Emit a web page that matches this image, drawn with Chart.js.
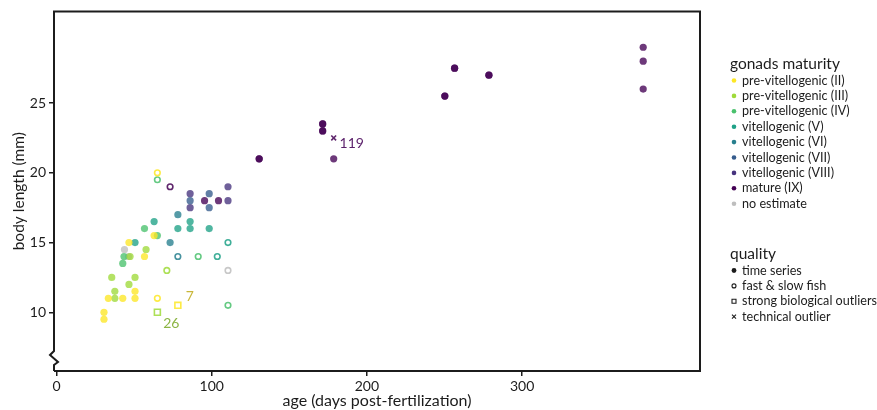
<!DOCTYPE html>
<html>
<head>
<meta charset="utf-8">
<script src="https://cdn.jsdelivr.net/npm/chart.js@4.4.0/dist/chart.umd.min.js"></script>
<style>
  html, body { margin: 0; padding: 0; background: #fff; }
  #wrap { position: relative; width: 877px; height: 410px; }
</style>
</head>
<body>
<div id="wrap"><canvas id="c" width="877" height="410"></canvas></div>
<script>
// ---- data: [age (dpf), body length (mm), quality index] per fish ----
const STAGES = ['pre-vitellogenic (II)', 'pre-vitellogenic (III)', 'pre-vitellogenic (IV)',
  'vitellogenic (V)', 'vitellogenic (VI)', 'vitellogenic (VII)', 'vitellogenic (VIII)',
  'mature (IX)', 'no estimate'];
const QUALITIES = ['time series', 'fast & slow fish', 'strong biological outliers', 'technical outlier'];
const X_TICKS = [0, 100, 200, 300];
const Y_TICKS = [10, 15, 20, 25];

const fishII = [[30.6, 10, 0], [30.6, 9.5, 0], [33.4, 11, 0], [42.7, 11, 0], [50.6, 11, 0],
  [50.6, 11.5, 0], [46.7, 15, 0], [56.7, 14, 0], [62.9, 15.5, 0], [65, 20, 1], [65, 11, 1], [78.2, 10.5, 2]];
const fishIII = [[35.6, 12.5, 0], [37.6, 11.5, 0], [37.6, 11, 0], [46.7, 12, 0], [50.6, 12.5, 0],
  [57.7, 14.5, 0], [47.4, 14, 0], [71.1, 13, 1], [65, 10, 2]];
const fishIV = [[42.7, 13.5, 0], [43.5, 14, 0], [56.7, 16, 0], [65, 15.5, 0],
  [65, 19.5, 1], [91.3, 14, 1], [110.5, 10.5, 1]];
const fishV = [[50.6, 15, 0], [62.9, 16.5, 0], [78.2, 16, 0], [86.1, 16.5, 0], [86.1, 16, 0],
  [98.4, 16, 0], [103.6, 14, 1], [110.5, 15, 1]];
const fishVI = [[73.2, 15, 0], [78.2, 17, 0], [78.2, 14, 1]];
const fishVII = [[86.1, 18, 0], [98.4, 18.5, 0], [98.4, 17.5, 0]];
const fishVIII = [[86.1, 18.5, 0], [86.1, 17.5, 0], [110.5, 18, 0], [110.5, 19, 0]];
const fishIX = [[95.4, 18, 0], [104.4, 18, 0], [130.6, 21, 0], [130.6, 21, 0],
  [171.5, 23.5, 0], [171.5, 23.5, 0], [171.5, 23, 0], [171.5, 23, 0], [178.6, 21, 0],
  [250.2, 25.5, 0], [250.2, 25.5, 0], [256.5, 27.5, 0], [256.5, 27.5, 0],
  [278.6, 27, 0], [278.6, 27, 0], [378, 29, 0], [378, 28, 0], [378, 26, 0],
  [73.2, 19, 1], [178.6, 22.5, 3]];
const fishNA = [[43.8, 14.5, 0], [46.4, 14, 0], [110.5, 13, 1]];

// fish ids written next to outliers: [text, stage index, age, length]
const NOTES = [['7', 0, 78.2, 10.5], ['26', 1, 65, 10], ['119', 7, 178.6, 22.5]];
// ---------------------------------------------------------------------

const ALL = [fishII, fishIII, fishIV, fishV, fishVI, fishVII, fishVIII, fishIX, fishNA];
const COLORS = ['253,231,37', '159,218,58', '74,193,109', '31,161,135', '39,127,142',
  '54,92,141', '70,51,126', '68,1,84', '190,190,190'];
const NOTE_COLORS = ['#c9b73a', '#8cb544', '#5a1f6a'];
const NOTE_OFFSETS = [[12, -9], [14, 11], [18, 6]];
const FONT = 'Lato, "Open Sans", sans-serif';
const INK = '#1c1c1c';

const STYLE_OF_Q = ['circle', 'circle', 'rect', 'crossRot'];

const datasets = ALL.map((rows, s) => {
  const c = COLORS[s];
  return {
    label: STAGES[s],
    data: rows.map(r => ({ x: r[0], y: r[1] })),
    pointStyle: rows.map(r => STYLE_OF_Q[r[2]]),
    pointRadius: rows.map(r => r[2] === 0 ? 3.6 : r[2] === 1 ? 2.8 : r[2] === 2 ? 4.2 : 3.4),
    pointBorderWidth: rows.map(r => r[2] === 0 ? 0 : 1.6),
    pointBackgroundColor: rows.map(r => r[2] === 0 ? `rgba(${c},0.78)` : 'rgba(255,255,255,1)'),
    pointBorderColor: rows.map(r => `rgba(${c},0.85)`),
    pointHoverRadius: 4
  };
});

const framePlugin = {
  id: 'frame',
  afterDraw(chart) {
    const { ctx, chartArea: a } = chart;
    ctx.save();
    ctx.strokeStyle = INK;
    ctx.lineWidth = 2;
    ctx.beginPath();
    ctx.moveTo(a.left, a.bottom);
    ctx.lineTo(a.right, a.bottom);
    ctx.lineTo(a.right, a.top);
    ctx.lineTo(a.left, a.top);
    ctx.lineTo(a.left, a.bottom - 20);
    ctx.lineTo(a.left - 4, a.bottom - 16);
    ctx.lineTo(a.left + 4, a.bottom - 9);
    ctx.lineTo(a.left, a.bottom - 6);
    ctx.lineTo(a.left, a.bottom);
    ctx.stroke();

    // outlier ids
    const xs = chart.scales.x, ys = chart.scales.y;
    ctx.font = '14px ' + FONT;
    ctx.textAlign = 'center';
    ctx.textBaseline = 'middle';
    NOTES.forEach((n, i) => {
      ctx.fillStyle = NOTE_COLORS[i];
      ctx.fillText(n[0], xs.getPixelForValue(n[2]) + NOTE_OFFSETS[i][0], ys.getPixelForValue(n[3]) + NOTE_OFFSETS[i][1]);
    });

    // legends
    const lx = 730;
    ctx.textAlign = 'left';
    ctx.fillStyle = INK;
    ctx.font = '15.5px ' + FONT;
    ctx.fillText('gonads maturity', lx, 64);
    ctx.font = '12.6px ' + FONT;
    STAGES.forEach((s, i) => {
      const y = 80.5 + i * 15.4;
      ctx.fillStyle = `rgb(${COLORS[i]})`;
      ctx.beginPath();
      ctx.arc(lx + 4, y, 2.3, 0, Math.PI * 2);
      ctx.fill();
      ctx.fillStyle = INK;
      ctx.fillText(s, lx + 12, y);
    });
    ctx.font = '15.5px ' + FONT;
    ctx.fillText('quality', lx, 254);
    ctx.font = '12.6px ' + FONT;
    QUALITIES.forEach((q, i) => {
      const y = 270.5 + i * 15.4;
      ctx.strokeStyle = INK;
      ctx.fillStyle = INK;
      ctx.lineWidth = 1.1;
      ctx.beginPath();
      if (i === 0) { ctx.arc(lx + 4, y, 2.4, 0, Math.PI * 2); ctx.fill(); }
      else if (i === 1) { ctx.arc(lx + 4, y, 2, 0, Math.PI * 2); ctx.stroke(); }
      else if (i === 2) { ctx.rect(lx + 2, y - 2, 4, 4); ctx.stroke(); }
      else { ctx.moveTo(lx + 2, y - 2); ctx.lineTo(lx + 6, y + 2); ctx.moveTo(lx + 6, y - 2); ctx.lineTo(lx + 2, y + 2); ctx.stroke(); }
      ctx.fillText(q, lx + 12, y);
    });
    ctx.restore();
  }
};

new Chart(document.getElementById('c'), {
  type: 'scatter',
  data: { datasets },
  options: {
    responsive: false,
    animation: false,
    layout: { padding: { top: 10, right: 177, left: 0, bottom: 0 } },
    plugins: { legend: { display: false }, tooltip: { enabled: false } },
    scales: {
      x: {
        type: 'linear', min: -1.6, max: 414.6,
        afterBuildTicks: s => { s.ticks = X_TICKS.map(v => ({ value: v })); },
        afterFit: s => { s.height = 39; },
        grid: { drawOnChartArea: false, drawTicks: true, tickLength: 5, color: INK, lineWidth: 1.5 },
        border: { display: false },
        ticks: { color: INK, font: { family: FONT, size: 14 }, padding: 2, maxRotation: 0 },
        title: { display: true, text: 'age (days post-fertilization)', color: INK, font: { family: FONT, size: 16 }, padding: { top: 0, bottom: 0 } }
      },
      y: {
        type: 'linear', min: 5.79, max: 31.57,
        afterBuildTicks: s => { s.ticks = Y_TICKS.map(v => ({ value: v })); },
        afterFit: s => { s.width = 54; },
        grid: { drawOnChartArea: false, drawTicks: true, tickLength: 5, color: INK, lineWidth: 1.5 },
        border: { display: false },
        ticks: { color: INK, font: { family: FONT, size: 14 }, padding: 3 },
        title: { display: true, text: 'body length (mm)', color: INK, font: { family: FONT, size: 15.5 }, padding: { top: 10, bottom: 0 } }
      }
    }
  },
  plugins: [framePlugin]
});
</script>
</body>
</html>
